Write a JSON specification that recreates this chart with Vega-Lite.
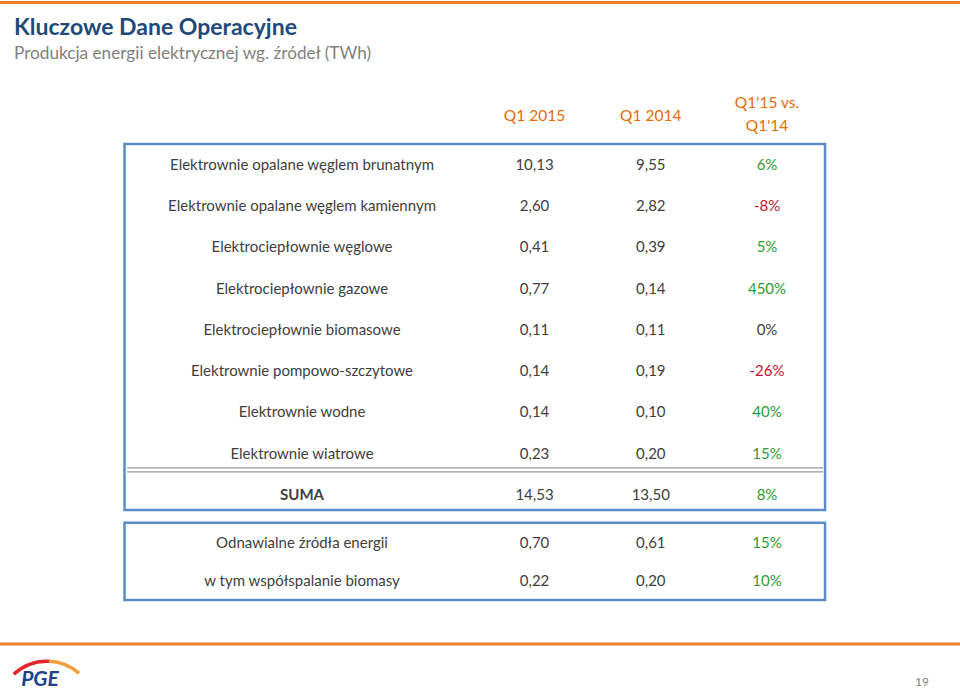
{
  "$schema": "https://vega.github.io/schema/vega-lite/v6.json",
  "width": 960,
  "height": 621,
  "autosize": {"type": "none"},
  "padding": {"top": 70, "left": 0, "right": 0, "bottom": 0},
  "background": "white",
  "title": {
    "text": "Kluczowe Dane Operacyjne",
    "subtitle": "Produkcja energii elektrycznej wg. źródeł (TWh)",
    "anchor": "start",
    "frame": "group",
    "orient": "top",
    "offset": -61,
    "dx": 14,
    "font": "Lato",
    "fontSize": 23,
    "fontWeight": "bold",
    "color": "#1F497D",
    "subtitleFont": "Lato",
    "subtitleFontSize": 17.2,
    "subtitleColor": "#7F7F7F",
    "subtitlePadding": 5
  },
  "config": {
    "view": {"stroke": null},
    "font": "Lato",
    "locale": {"number": {"decimal": ",", "thousands": " ", "grouping": [3], "currency": ["", " zł"], "minus": "-", "percent": "%"}}
  },
  "datasets": {
    "main": [
      {"row": 1, "label": "Elektrownie opalane węglem brunatnym", "q15": 10.13, "q14": 9.55, "change": 0.06},
      {"row": 2, "label": "Elektrownie opalane węglem kamiennym", "q15": 2.60, "q14": 2.82, "change": -0.08},
      {"row": 3, "label": "Elektrociepłownie węglowe", "q15": 0.41, "q14": 0.39, "change": 0.05},
      {"row": 4, "label": "Elektrociepłownie gazowe", "q15": 0.77, "q14": 0.14, "change": 4.50},
      {"row": 5, "label": "Elektrociepłownie biomasowe", "q15": 0.11, "q14": 0.11, "change": 0},
      {"row": 6, "label": "Elektrownie pompowo-szczytowe", "q15": 0.14, "q14": 0.19, "change": -0.26},
      {"row": 7, "label": "Elektrownie wodne", "q15": 0.14, "q14": 0.10, "change": 0.40},
      {"row": 8, "label": "Elektrownie wiatrowe", "q15": 0.23, "q14": 0.20, "change": 0.15},
      {"row": 9, "label": "SUMA", "q15": 14.53, "q14": 13.50, "change": 0.08}
    ],
    "extra": [
      {"row": 1, "label": "Odnawialne źródła energii", "q15": 0.70, "q14": 0.61, "change": 0.15},
      {"row": 2, "label": "w tym współspalanie biomasy", "q15": 0.22, "q14": 0.20, "change": 0.10}
    ]
  },
  "layer": [
    {
      "layer": [
        {
          "data": {"values": [{}]},
          "mark": {"type": "rule", "color": "#ED7D31", "strokeWidth": 3},
          "encoding": {
            "y": {"datum": -2.939, "type": "quantitative", "scale": {"domain": [-1.303, 13.752], "nice": false, "zero": false, "reverse": true}, "axis": null}
          }
        },
        {
          "data": {"values": [{}]},
          "mark": {"type": "rule", "color": "#ED7D31", "strokeWidth": 3},
          "encoding": {
            "y": {"datum": 12.612, "type": "quantitative", "scale": {"domain": [-1.303, 13.752], "nice": false, "zero": false, "reverse": true}, "axis": null}
          }
        },
        {
          "data": {"values": [{}]},
          "mark": {"type": "rect", "fill": null, "stroke": "#5B8BC9", "strokeWidth": 2.5},
          "encoding": {
            "x": {"datum": -1.527, "type": "quantitative", "scale": {"domain": [-2.598, 5.66], "nice": false, "zero": false}, "axis": null},
            "x2": {"datum": 4.499},
            "y": {"datum": 0.491, "type": "quantitative", "scale": {"domain": [-1.303, 13.752], "nice": false, "zero": false, "reverse": true}, "axis": null},
            "y2": {"datum": 9.364}
          }
        },
        {
          "data": {"values": [{"line": 8.345}, {"line": 8.442}]},
          "mark": {"type": "rule", "color": "#9A9A9A", "strokeWidth": 1.2},
          "encoding": {
            "x": {"datum": -1.505, "type": "quantitative", "scale": {"domain": [-2.598, 5.66], "nice": false, "zero": false}, "axis": null},
            "x2": {"datum": 4.482},
            "y": {"field": "line", "type": "quantitative", "scale": {"domain": [-1.303, 13.752], "nice": false, "zero": false, "reverse": true}, "axis": null}
          }
        },
        {
          "data": {"values": [{"h": "Q1 2015", "col": 2}, {"h": "Q1 2014", "col": 3}]},
          "mark": {"type": "text", "fontSize": 15.5, "color": "#E46C0A", "baseline": "middle", "align": "center"},
          "encoding": {
            "x": {"field": "col", "type": "quantitative", "scale": {"domain": [-2.598, 5.66], "nice": false, "zero": false}, "axis": null},
            "y": {"datum": -0.188, "type": "quantitative", "scale": {"domain": [-1.303, 13.752], "nice": false, "zero": false, "reverse": true}, "axis": null},
            "text": {"field": "h"}
          }
        },
        {
          "data": {"values": [{}]},
          "mark": {"type": "text", "text": ["Q1'15 vs.", "Q1'14"], "lineHeight": 23, "fontSize": 15.5, "color": "#E46C0A", "baseline": "middle", "align": "center"},
          "encoding": {
            "x": {"datum": 4, "type": "quantitative", "scale": {"domain": [-2.598, 5.66], "nice": false, "zero": false}, "axis": null},
            "y": {"datum": -0.491, "type": "quantitative", "scale": {"domain": [-1.303, 13.752], "nice": false, "zero": false, "reverse": true}, "axis": null}
          }
        },
        {
          "data": {"name": "main"},
          "transform": [{"filter": "datum.label !== 'SUMA'"}],
          "mark": {"type": "text", "fontSize": 15, "color": "#404040", "baseline": "middle", "align": "center"},
          "encoding": {
            "x": {"datum": 0, "type": "quantitative", "scale": {"domain": [-2.598, 5.66], "nice": false, "zero": false}, "axis": null},
            "y": {"field": "row", "type": "quantitative", "scale": {"domain": [-1.303, 13.752], "nice": false, "zero": false, "reverse": true}, "axis": null},
            "text": {"field": "label"}
          }
        },
        {
          "data": {"name": "main"},
          "transform": [{"filter": "datum.label === 'SUMA'"}],
          "mark": {"type": "text", "fontSize": 15, "fontWeight": "bold", "color": "#404040", "baseline": "middle", "align": "center"},
          "encoding": {
            "x": {"datum": 0, "type": "quantitative", "scale": {"domain": [-2.598, 5.66], "nice": false, "zero": false}, "axis": null},
            "y": {"field": "row", "type": "quantitative", "scale": {"domain": [-1.303, 13.752], "nice": false, "zero": false, "reverse": true}, "axis": null},
            "text": {"field": "label"}
          }
        },
        {
          "data": {"name": "main"},
          "mark": {"type": "text", "fontSize": 15, "color": "#404040", "baseline": "middle", "align": "center"},
          "encoding": {
            "x": {"datum": 2, "type": "quantitative", "scale": {"domain": [-2.598, 5.66], "nice": false, "zero": false}, "axis": null},
            "y": {"field": "row", "type": "quantitative", "scale": {"domain": [-1.303, 13.752], "nice": false, "zero": false, "reverse": true}, "axis": null},
            "text": {"field": "q15", "type": "quantitative", "format": ".2f"}
          }
        },
        {
          "data": {"name": "main"},
          "mark": {"type": "text", "fontSize": 15, "color": "#404040", "baseline": "middle", "align": "center"},
          "encoding": {
            "x": {"datum": 3, "type": "quantitative", "scale": {"domain": [-2.598, 5.66], "nice": false, "zero": false}, "axis": null},
            "y": {"field": "row", "type": "quantitative", "scale": {"domain": [-1.303, 13.752], "nice": false, "zero": false, "reverse": true}, "axis": null},
            "text": {"field": "q14", "type": "quantitative", "format": ".2f"}
          }
        },
        {
          "data": {"name": "main"},
          "mark": {"type": "text", "fontSize": 15, "baseline": "middle", "align": "center"},
          "encoding": {
            "x": {"datum": 4, "type": "quantitative", "scale": {"domain": [-2.598, 5.66], "nice": false, "zero": false}, "axis": null},
            "y": {"field": "row", "type": "quantitative", "scale": {"domain": [-1.303, 13.752], "nice": false, "zero": false, "reverse": true}, "axis": null},
            "text": {"field": "change", "type": "quantitative", "format": ".0%"},
            "color": {"condition": [{"test": "datum.change > 0", "value": "#2E9A35"}, {"test": "datum.change < 0", "value": "#C8102E"}], "value": "#404040"}
          }
        },
        {
          "data": {"values": [{}]},
          "mark": {"type": "text", "text": "19", "fontSize": 12, "color": "#7F7F7F", "baseline": "middle", "align": "center"},
          "encoding": {
            "x": {"datum": 5.333, "type": "quantitative", "scale": {"domain": [-2.598, 5.66], "nice": false, "zero": false}, "axis": null},
            "y": {"datum": 13.533, "type": "quantitative", "scale": {"domain": [-1.303, 13.752], "nice": false, "zero": false, "reverse": true}, "axis": null}
          }
        },
        {
          "data": {"values": [{}]},
          "mark": {"type": "text", "text": "PGE", "fontSize": 21, "fontWeight": "bold", "fontStyle": "italic", "color": "#1F3F8F", "baseline": "middle", "align": "center"},
          "encoding": {
            "x": {"datum": -2.254, "type": "quantitative", "scale": {"domain": [-2.598, 5.66], "nice": false, "zero": false}, "axis": null},
            "y": {"datum": 13.485, "type": "quantitative", "scale": {"domain": [-1.303, 13.752], "nice": false, "zero": false, "reverse": true}, "axis": null}
          }
        },
        {
          "data": {"values": [{"part": "red", "a": -0.75, "b": 0.05}, {"part": "orange", "a": 0.05, "b": 0.72}]},
          "mark": {"type": "arc", "radius": 50.5, "radius2": 47},
          "encoding": {
            "x": {"datum": -2.194, "type": "quantitative", "scale": {"domain": [-2.598, 5.66], "nice": false, "zero": false}, "axis": null},
            "y": {"datum": 14.212, "type": "quantitative", "scale": {"domain": [-1.303, 13.752], "nice": false, "zero": false, "reverse": true}, "axis": null},
            "theta": {"field": "a", "type": "quantitative", "scale": null},
            "theta2": {"field": "b"},
            "color": {"field": "part", "type": "nominal", "scale": {"domain": ["red", "orange"], "range": ["#E3262E", "#F0A040"]}, "legend": null}
          }
        }
      ]
    },
    {
      "layer": [
        {
          "data": {"values": [{}]},
          "mark": {"type": "rect", "fill": null, "stroke": "#5B8BC9", "strokeWidth": 2.5},
          "encoding": {
            "x": {"datum": -1.527, "type": "quantitative", "scale": {"domain": [-2.598, 5.66], "nice": false, "zero": false}, "axis": null},
            "x2": {"datum": 4.499},
            "y": {"datum": 0.466, "type": "quantitative", "scale": {"domain": [-11.447, 4.895], "nice": false, "zero": false, "reverse": true}, "axis": null},
            "y2": {"datum": 2.5}
          }
        },
        {
          "data": {"name": "extra"},
          "mark": {"type": "text", "fontSize": 15, "color": "#404040", "baseline": "middle", "align": "center"},
          "encoding": {
            "x": {"datum": 0, "type": "quantitative", "scale": {"domain": [-2.598, 5.66], "nice": false, "zero": false}, "axis": null},
            "y": {"field": "row", "type": "quantitative", "scale": {"domain": [-11.447, 4.895], "nice": false, "zero": false, "reverse": true}, "axis": null},
            "text": {"field": "label"}
          }
        },
        {
          "data": {"name": "extra"},
          "mark": {"type": "text", "fontSize": 15, "color": "#404040", "baseline": "middle", "align": "center"},
          "encoding": {
            "x": {"datum": 2, "type": "quantitative", "scale": {"domain": [-2.598, 5.66], "nice": false, "zero": false}, "axis": null},
            "y": {"field": "row", "type": "quantitative", "scale": {"domain": [-11.447, 4.895], "nice": false, "zero": false, "reverse": true}, "axis": null},
            "text": {"field": "q15", "type": "quantitative", "format": ".2f"}
          }
        },
        {
          "data": {"name": "extra"},
          "mark": {"type": "text", "fontSize": 15, "color": "#404040", "baseline": "middle", "align": "center"},
          "encoding": {
            "x": {"datum": 3, "type": "quantitative", "scale": {"domain": [-2.598, 5.66], "nice": false, "zero": false}, "axis": null},
            "y": {"field": "row", "type": "quantitative", "scale": {"domain": [-11.447, 4.895], "nice": false, "zero": false, "reverse": true}, "axis": null},
            "text": {"field": "q14", "type": "quantitative", "format": ".2f"}
          }
        },
        {
          "data": {"name": "extra"},
          "mark": {"type": "text", "fontSize": 15, "baseline": "middle", "align": "center"},
          "encoding": {
            "x": {"datum": 4, "type": "quantitative", "scale": {"domain": [-2.598, 5.66], "nice": false, "zero": false}, "axis": null},
            "y": {"field": "row", "type": "quantitative", "scale": {"domain": [-11.447, 4.895], "nice": false, "zero": false, "reverse": true}, "axis": null},
            "text": {"field": "change", "type": "quantitative", "format": ".0%"},
            "color": {"condition": [{"test": "datum.change > 0", "value": "#2E9A35"}, {"test": "datum.change < 0", "value": "#C8102E"}], "value": "#404040"}
          }
        }
      ]
    }
  ],
  "resolve": {"scale": {"y": "independent"}}
}
